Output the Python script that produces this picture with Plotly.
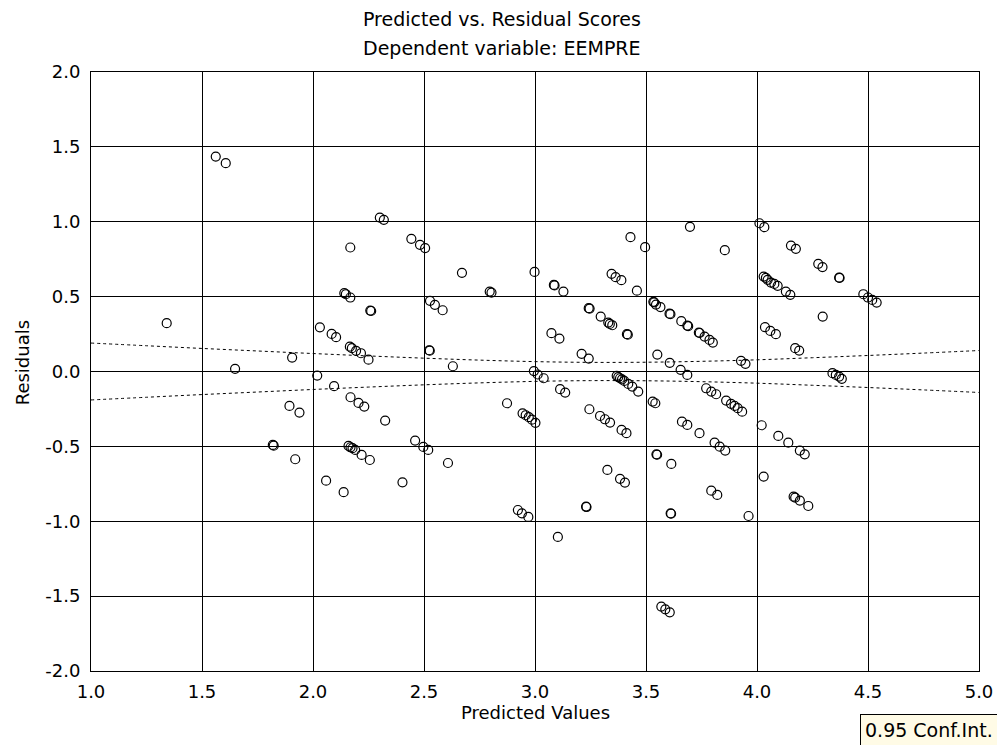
import plotly.graph_objects as go

# Scatter data
pred = [1.341, 1.562, 1.607, 1.649, 1.819, 1.823, 1.894, 1.906, 1.920, 1.939,
        2.019, 2.031, 2.059, 2.084, 2.104, 2.095, 2.138, 2.141, 2.148, 2.168,
        2.168, 2.166, 2.175, 2.194, 2.216, 2.250, 2.169, 2.205, 2.231,
        2.160, 2.169, 2.178, 2.190, 2.219, 2.256, 2.258, 2.262, 2.301, 2.319,
        2.325, 2.403, 2.443, 2.482, 2.505, 2.460, 2.497, 2.519, 2.523, 2.526,
        2.527, 2.549, 2.584, 2.608, 2.630, 2.671, 2.796, 2.804, 2.874,
        2.923, 2.941, 2.970, 2.944, 2.958, 2.972, 2.986, 3.002, 2.998,
        2.995, 3.012, 3.039,
        3.074, 3.110, 3.085, 3.088, 3.103, 3.113, 3.136, 3.128, 3.210, 3.242,
        3.230, 3.232, 3.242, 3.246, 3.245, 3.293, 3.315, 3.338, 3.296, 3.326,
        3.330, 3.337, 3.348, 3.345, 3.363, 3.389,
        3.368, 3.375, 3.383, 3.392, 3.402, 3.420, 3.438, 3.465,
        3.383, 3.405, 3.390, 3.412, 3.414, 3.418, 3.430, 3.459, 3.496,
        3.530, 3.542,
        3.533, 3.537, 3.545, 3.565, 3.606, 3.610, 3.659, 3.686, 3.690, 3.738,
        3.742, 3.764, 3.786, 3.801,
        3.547, 3.550, 3.551, 3.569, 3.587, 3.607, 3.607, 3.611, 3.613, 3.614,
        3.656, 3.686, 3.662, 3.686, 3.741, 3.698, 3.771, 3.794, 3.816,
        3.794, 3.821, 3.809, 3.832, 3.857, 3.855,
        3.861, 3.883, 3.899, 3.913, 3.933, 3.928, 3.948, 3.962,
        4.011, 4.033, 4.021, 4.030, 4.040, 4.048, 4.063, 4.078, 4.093,
        4.030, 4.036, 4.060, 4.085, 4.096, 4.141, 4.130, 4.150, 4.153, 4.175,
        4.165, 4.172, 4.193, 4.231, 4.172, 4.190, 4.193, 4.215,
        4.276, 4.295, 4.296, 4.340, 4.355, 4.370, 4.382, 4.370, 4.372,
        4.479, 4.500, 4.519, 4.539]

resid = [0.323, 1.435, 1.391, 0.018, -0.490, -0.495, -0.230, 0.093, -0.586, -0.274,
         -0.027, 0.295, -0.729, 0.251, 0.229, -0.098, -0.806, 0.523, 0.516, 0.494,
         0.828, 0.166, 0.156, 0.138, 0.122, 0.079, -0.172, -0.210, -0.234,
         -0.497, -0.506, -0.512, -0.524, -0.557, -0.591, 0.407, 0.404, 1.028, 1.013,
         -0.328, -0.740, 0.886, 0.846, 0.824, -0.461, -0.504, -0.524, 0.142, 0.139,
         0.472, 0.445, 0.409, -0.611, 0.035, 0.659, 0.534, 0.527, -0.212,
         -0.925, -0.947, -0.971, -0.279, -0.292, -0.305, -0.322, -0.343, 0.665,
         0.003, -0.020, -0.045,
         0.256, 0.220, 0.578, 0.575, -1.105, -0.118, -0.141, 0.534, 0.118, 0.086,
         -0.902, -0.905, 0.423, 0.420, -0.252, -0.297, -0.319, -0.341, 0.367, -0.657,
         0.327, 0.318, 0.309, 0.652, 0.630, 0.610,
         -0.029, -0.037, -0.045, -0.053, -0.063, -0.083, -0.101, -0.134,
         -0.717, -0.742, -0.390, -0.412, 0.249, 0.246, 0.897, 0.540, 0.830,
         -0.201, -0.212,
         0.465, 0.462, 0.447, 0.430, 0.386, 0.383, 0.336, 0.307, 0.303, 0.260,
         0.257, 0.233, 0.211, 0.193,
         -0.553, -0.556, 0.113, -1.570, -1.588, -1.608, 0.058, -0.947, -0.950, -0.617,
         0.011, -0.023, -0.335, -0.357, -0.412, 0.966, -0.112, -0.134, -0.152,
         -0.796, -0.824, -0.475, -0.502, -0.528, 0.810,
         -0.194, -0.216, -0.230, -0.245, -0.268, 0.071, 0.051, -0.965,
         0.990, 0.964, -0.359, 0.634, 0.625, 0.612, 0.594, 0.585, 0.572,
         -0.702, 0.296, 0.271, 0.249, -0.430, -0.475, 0.534, 0.512, 0.841, 0.819,
         -0.836, -0.842, -0.862, -0.898, 0.156, 0.140, -0.528, -0.553,
         0.719, 0.697, 0.367, -0.011, -0.023, -0.034, -0.049, 0.627, 0.625,
         0.516, 0.494, 0.478, 0.460]

# 0.95 confidence band half-widths
ci_x = [1.0, 1.25, 1.5, 1.75, 2.0, 2.25, 2.5, 2.75, 3.0, 3.25, 3.5, 3.75,
        4.0, 4.25, 4.5, 4.75, 5.0]
ci_half = [0.190, 0.172, 0.154, 0.137, 0.120, 0.104, 0.089, 0.076, 0.066,
           0.061, 0.062, 0.068, 0.078, 0.092, 0.107, 0.123, 0.140]

x_ticks = [1.0, 1.5, 2.0, 2.5, 3.0, 3.5, 4.0, 4.5, 5.0]
x_labels = ["1.0", "1.5", "2.0", "2.5", "3.0", "3.5", "4.0", "4.5", "5.0"]
y_ticks = [-2.0, -1.5, -1.0, -0.5, 0.0, 0.5, 1.0, 1.5, 2.0]
y_labels = ["-2.0", "-1.5", "-1.0", "-0.5", "0.0", "0.5", "1.0", "1.5", "2.0"]

FONT = "DejaVu Sans, sans-serif"

fig = go.Figure()
fig.add_trace(go.Scatter(x=ci_x, y=ci_half, mode="lines", line_shape="spline",
                         line=dict(color="black", width=1, dash="dot"),
                         hoverinfo="skip", showlegend=False))
fig.add_trace(go.Scatter(x=ci_x, y=[-v for v in ci_half], mode="lines", line_shape="spline",
                         line=dict(color="black", width=1, dash="dot"),
                         hoverinfo="skip", showlegend=False))
fig.add_trace(go.Scatter(x=pred, y=resid, mode="markers",
                         marker=dict(symbol="circle-open", size=9,
                                     color="black", line=dict(width=1.2, color="black")),
                         showlegend=False))

axis_common = dict(showgrid=True, gridcolor="black", gridwidth=1,
                   showline=True, linecolor="black", linewidth=1, mirror=True,
                   ticks="", tickfont=dict(family=FONT, size=18, color="black"))

fig.update_layout(
    width=997, height=737,
    margin=dict(l=83, r=23, t=64, b=74),
    paper_bgcolor="white", plot_bgcolor="white",
    font=dict(family=FONT, size=18, color="black"),
    xaxis=dict(range=[1.0, 5.0], tickvals=x_ticks, ticktext=x_labels, zeroline=False,
               ticklabelstandoff=4, **axis_common),
    yaxis=dict(range=[-2.0, 2.0], tickvals=y_ticks, ticktext=y_labels, zeroline=True,
               zerolinecolor="black", zerolinewidth=1, ticklabelstandoff=6,
               **axis_common),
    annotations=[
        dict(text="Predicted vs. Residual Scores", xref="paper", yref="paper",
             x=0.4624, y=1.0885, xanchor="center", yanchor="middle", showarrow=False,
             font=dict(family=FONT, size=19, color="black")),
        dict(text="Dependent variable: EEMPRE", xref="paper", yref="paper",
             x=0.4624, y=1.040, xanchor="center", yanchor="middle", showarrow=False,
             font=dict(family=FONT, size=19, color="black")),
        dict(text="Predicted Values", xref="paper", yref="paper",
             x=0.5, y=-0.0700, xanchor="center", yanchor="middle", showarrow=False,
             font=dict(family=FONT, size=18, color="black")),
        dict(text="Residuals", xref="paper", yref="paper", textangle=-90,
             x=-0.0775, y=0.514, xanchor="center", yanchor="middle", showarrow=False,
             font=dict(family=FONT, size=18, color="black")),
        dict(text="0.95 Conf.Int.", xref="paper", yref="paper",
             x=0.8664, y=-0.0718, xanchor="left", yanchor="top", showarrow=False,
             font=dict(family=FONT, size=19, color="black"),
             bgcolor="#fffbe6", bordercolor="black", borderwidth=1, borderpad=4),
    ],
)

fig.write_html("out.html")
